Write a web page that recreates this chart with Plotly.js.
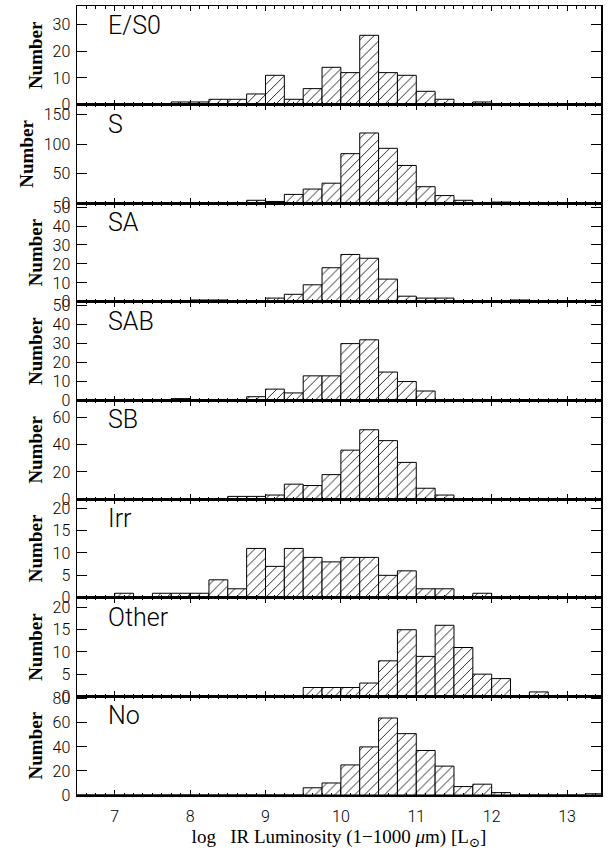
<!DOCTYPE html>
<html>
<head>
<meta charset="utf-8">
<script src="https://cdn.plot.ly/plotly-3.0.1.min.js"></script>
<style>
  html, body { margin: 0; padding: 0; background: #fff; }
  #chart { width: 616px; height: 850px; }
</style>
</head>
<body>
<div id="chart"></div>
<script>
// Histogram bin centres, log L_IR, bins 0.25 dex wide
const binCenters = [6.625, 6.875, 7.125, 7.375, 7.625, 7.875, 8.125, 8.375, 8.625, 8.875,
                    9.125, 9.375, 9.625, 9.875, 10.125, 10.375, 10.625, 10.875, 11.125, 11.375,
                    11.625, 11.875, 12.125, 12.375, 12.625, 12.875, 13.125, 13.375];

// Morphological classes, top to bottom
const classNames = ["E/S0", "S", "SA", "SAB", "SB", "Irr", "Other", "No"];

// Counts per bin for each class
const countsES0   = [0,0,0,0,0,1,1,2,2,4,11,2,6,14,12,26,12,11,5,2,0,1,0,0,0,0,0,0];
const countsS     = [0,0,0,0,0,0,0,0,1,5,3,15,24,34,84,119,93,64,28,13,5,1,2,1,0,0,0,0];
const countsSA    = [0,0,0,0,0,0,1,1,0,0,2,4,9,18,25,23,12,3,2,2,0,0,0,1,0,0,0,0];
const countsSAB   = [0,0,0,0,0,1,0,0,0,2,6,4,13,13,30,32,15,10,5,0,0,0,0,0,0,0,0,0];
const countsSB    = [0,0,0,0,0,0,0,0,2,2,3,11,10,18,36,51,43,27,8,3,0,0,0,0,0,0,0,0];
const countsIrr   = [0,0,1,0,1,1,1,4,2,11,7,11,9,8,9,9,5,6,2,2,0,1,0,0,0,0,0,0];
const countsOther = [0,0,0,0,0,0,0,0,0,0,0,0,2,2,2,3,8,15,9,16,11,5,4,0,1,0,0,0];
const countsNo    = [0,0,0,0,0,0,0,0,0,0,0,0,6,10,25,40,64,51,37,24,7,9,2,0,0,0,0,1];

// y-axis extent and tick step of each panel
const yMax  = [37, 167, 52, 52, 72.5, 22, 22.2, 82];
const yStep = [10, 50, 10, 10, 20, 5, 5, 20];

const xTickVals = [7, 8, 9, 10, 11, 12, 13];
const xTitle = "log\u00a0\u00a0\u00a0IR Luminosity (1\u22121000 <i>\u03bc</i>m) [L<sub>\u2299</sub>]";
const yTitle = "Number";

const allCounts = [countsES0, countsS, countsSA, countsSAB, countsSB, countsIrr, countsOther, countsNo];

const nPanels = classNames.length;
const tickFont = { family: "Roboto, 'DejaVu Sans', sans-serif", size: 16, color: "#000", weight: 300 };
const serif = "'Liberation Serif', 'DejaVu Serif', serif";

const traces = [];
const layout = {
  width: 616, height: 850,
  margin: { l: 77, r: 15, t: 6, b: 55 },
  paper_bgcolor: "#fff", plot_bgcolor: "#fff",
  showlegend: false,
  bargap: 0,
  annotations: []
};

for (let p = 0; p < nPanels; p++) {
  const s = p === 0 ? "" : String(p + 1);
  const top = 1 - p / nPanels;
  const bottom = 1 - (p + 1) / nPanels;

  traces.push({
    type: "bar",
    x: binCenters,
    y: allCounts[p],
    width: 0.25,
    xaxis: "x" + s,
    yaxis: "y" + s,
    marker: {
      color: "#fff",
      line: { color: "#000", width: 1 },
      pattern: { shape: "/", fgcolor: "#000", bgcolor: "#fff", size: 7, solidity: 0.12 }
    },
    hoverinfo: "x+y"
  });

  const isBottom = p === nPanels - 1;
  const xa = {
    range: [6.5, 13.45],
    anchor: "y" + s,
    showline: true, linecolor: "#000", linewidth: 1.5, mirror: "ticks",
    ticks: "inside", ticklen: 5, tickwidth: 1, tickcolor: "#000",
    tickvals: xTickVals,
    minor: { ticks: "inside", ticklen: 2.5, tickwidth: 1, tickcolor: "#000", dtick: 0.125, tick0: 7 },
    showgrid: false, zeroline: false,
    showticklabels: isBottom,
    tickfont: tickFont,
    ticklabelstandoff: 6
  };
  if (p > 0) xa.matches = "x";
  if (isBottom) xa.title = { text: xTitle, font: { family: serif, size: 19, color: "#000" }, standoff: 5 };
  layout["xaxis" + s] = xa;

  layout["yaxis" + s] = {
    domain: [bottom, top],
    anchor: "x" + s,
    range: [0, yMax[p]],
    dtick: yStep[p], tick0: 0,
    showline: true, linecolor: "#000", linewidth: 1.5, mirror: "ticks",
    ticks: "inside", ticklen: 10, tickwidth: 1, tickcolor: "#000",
    showgrid: false, zeroline: false,
    tickfont: tickFont,
    ticklabelstandoff: 2,
    title: { text: yTitle, font: { family: serif, size: 19, color: "#000", weight: "bold" }, standoff: 5 }
  };

  // class label in the upper-left corner of each panel
  layout.annotations.push({
    text: classNames[p],
    xref: "paper", yref: "y" + s + " domain",
    x: 0.055, y: 0.97,
    xanchor: "left", yanchor: "top",
    showarrow: false,
    font: { family: "Roboto, 'DejaVu Sans', sans-serif", size: 25, color: "#000", weight: 300 }
  });
}

Plotly.newPlot("chart", traces, layout, { staticPlot: true, displayModeBar: false });
</script>
</body>
</html>
